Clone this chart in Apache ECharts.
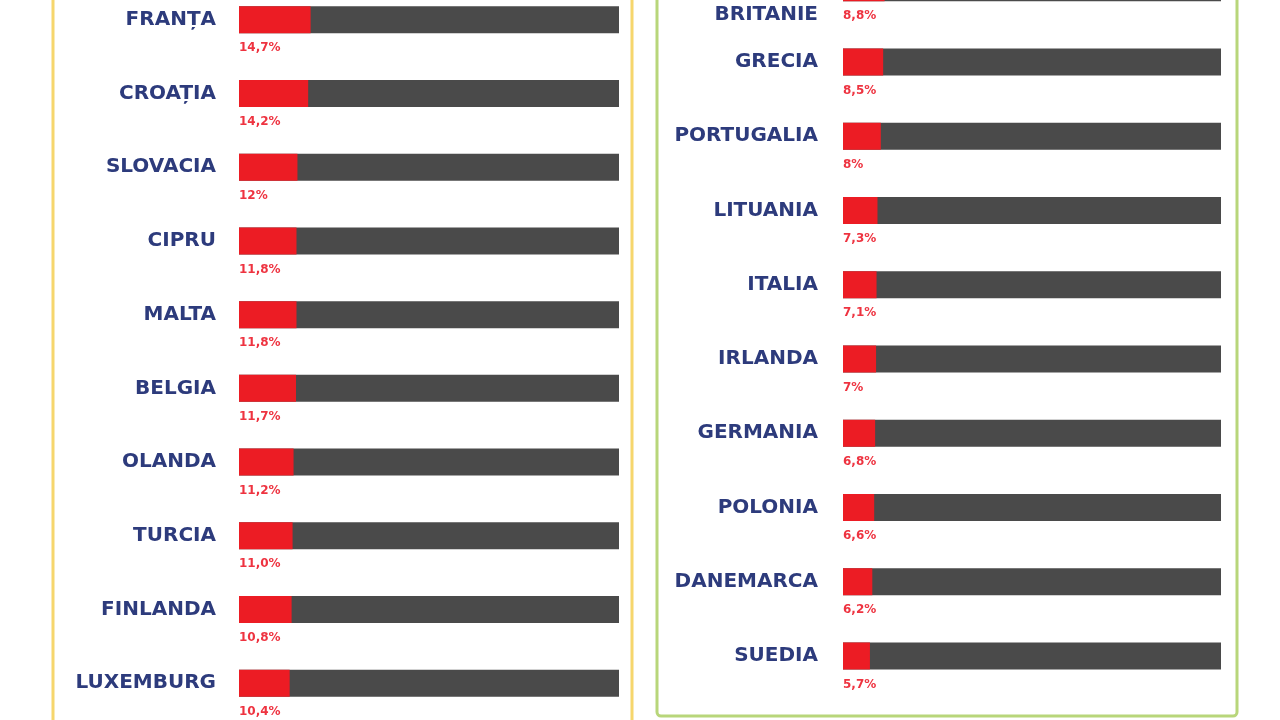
<!DOCTYPE html>
<html>
<head>
<meta charset="utf-8">
<script src="https://cdn.jsdelivr.net/npm/echarts@6/dist/echarts.min.js"></script>
<style>
html,body{margin:0;padding:0;background:#fff;}
#main{width:1280px;height:720px;}
</style>
</head>
<body>
<div id="main"></div>
<script>
var leftCountries = ['FRANȚA','CROAȚIA','SLOVACIA','CIPRU','MALTA','BELGIA','OLANDA','TURCIA','FINLANDA','LUXEMBURG'];
var leftValues = [14.7,14.2,12,11.8,11.8,11.7,11.2,11.0,10.8,10.4];
var leftLabels = ['14,7%','14,2%','12%','11,8%','11,8%','11,7%','11,2%','11,0%','10,8%','10,4%'];

var rightCountries = ['MAREA\nBRITANIE','GRECIA','PORTUGALIA','LITUANIA','ITALIA','IRLANDA','GERMANIA','POLONIA','DANEMARCA','SUEDIA'];
var rightValues = [8.8,8.5,8,7.3,7.1,7,6.8,6.6,6.2,5.7];
var rightLabels = ['8,8%','8,5%','8%','7,3%','7,1%','7%','6,8%','6,6%','6,2%','5,7%'];

var navy = '#2d3b7c';
var red = '#ec1c24';
var grey = '#4a4a4a';

var catAxis = function(idx,names,margin){
	return {
		type:'category',
		gridIndex:idx,
		inverse:true,
		// the two-line name sits lower than the others
		data:names.map(function(n){
			if(n.indexOf('\n')>=0)
				return {value:n,textStyle:{lineHeight:54}};
			return n;
		}),
		axisLine:{show:false},
		axisTick:{show:false},
		axisLabel:{
			margin:margin,
			color:navy,
			fontFamily:'DejaVu Sans',
			fontWeight:'bold',
			fontSize:20,
			padding:[0,0,8,0]
		}
	};
};

var valAxis = function(idx,max){
	return {type:'value',gridIndex:idx,min:0,max:max,show:false,splitLine:{show:false}};
};

var barSeries = function(idx,values,labels){
	return {
		type:'bar',
		xAxisIndex:idx,
		yAxisIndex:idx,
		data:values,
		barWidth:27,
		showBackground:true,
		backgroundStyle:{color:grey},
		itemStyle:{color:red},
		label:{
			show:true,
			position:[0,'100%'],
			offset:[0,9],
			align:'left',
			verticalAlign:'top',
			color:'#ee3340',
			fontFamily:'DejaVu Sans',
			fontWeight:'bold',
			fontSize:12,
			formatter:function(p){ return labels[p.dataIndex]; }
		},
		silent:true
	};
};

var option = {
	animation:false,
	backgroundColor:'#ffffff',
	grid:[
		{left:239,width:380,top:-17,height:737,containLabel:false,outerBoundsMode:'none'},
		{left:843,width:378,top:-49.4,height:742.5,containLabel:false,outerBoundsMode:'none'}
	],
	xAxis:[valAxis(0,78),valAxis(1,80)],
	yAxis:[catAxis(0,leftCountries,23),catAxis(1,rightCountries,25)],
	series:[barSeries(0,leftValues,leftLabels),barSeries(1,rightValues,rightLabels)],
	graphic:[
		{
			type:'rect',
			shape:{x:53,y:-20,width:579,height:760,r:3},
			style:{fill:'none',stroke:'#f6d66c',lineWidth:3}
		},
		{
			type:'rect',
			shape:{x:657,y:-20,width:580,height:736,r:4},
			style:{fill:'none',stroke:'#b8d67a',lineWidth:3}
		}
	]
};

var myChart = echarts.init(document.getElementById('main'));
myChart.setOption(option);
</script>
</body>
</html>
